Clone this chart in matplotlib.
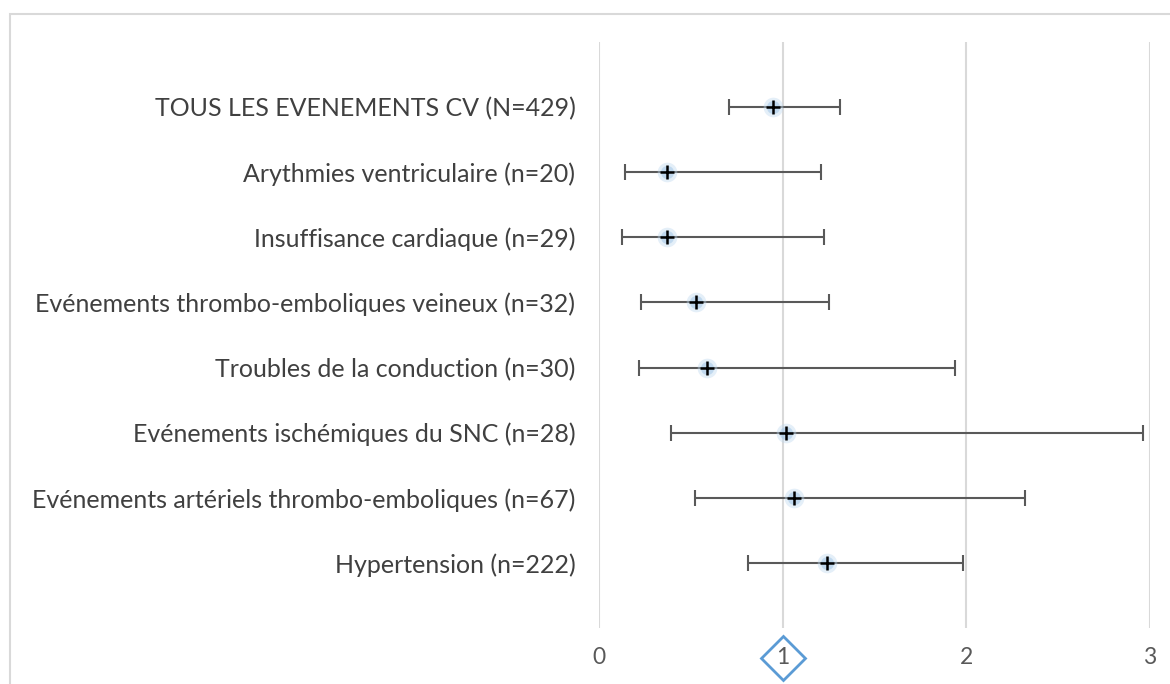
import matplotlib.pyplot as plt
from matplotlib.patches import Rectangle

# categories, bottom to top
labels = [
    "Hypertension (n=222)",
    "Evénements artériels thrombo-emboliques (n=67)",
    "Evénements ischémiques du SNC (n=28)",
    "Troubles de la conduction (n=30)",
    "Evénements thrombo-emboliques veineux (n=32)",
    "Insuffisance cardiaque (n=29)",
    "Arythmies ventriculaire (n=20)",
    "TOUS LES EVENEMENTS CV (N=429)",
]
estimate = [1.24, 1.06, 1.02, 0.59, 0.53, 0.37, 0.37, 0.95]
ci_low = [0.81, 0.52, 0.39, 0.22, 0.23, 0.125, 0.14, 0.71]
ci_high = [1.98, 2.32, 2.96, 1.94, 1.25, 1.225, 1.21, 1.31]
xticks = [0, 1, 2, 3]

plt.rcParams["font.family"] = ["Lato", "DejaVu Sans"]

fig = plt.figure(figsize=(11.7, 6.84), dpi=100)
# outer chart border
fig.patches.append(Rectangle((10 / 1170, -0.05), 1.1, 1 - 14 / 684 + 0.05,
                             transform=fig.transFigure, fill=False,
                             edgecolor="#d9d9d9", linewidth=1.5))

ax = fig.add_axes([599 / 1170, 1 - 628 / 684, (1150 - 599) / 1170, (628 - 42) / 684])

ypos = list(range(1, len(labels) + 1))
xerr = [[e - lo for e, lo in zip(estimate, ci_low)],
        [hi - e for e, hi in zip(estimate, ci_high)]]

ax.errorbar(estimate, ypos, xerr=xerr, fmt="none", ecolor="#595959",
            elinewidth=1.5, capsize=6, capthick=1.5, zorder=3)
# soft glow behind the markers
ax.scatter(estimate, ypos, s=200, color="#bdd7ee", alpha=0.4, linewidths=0, zorder=4)
ax.scatter(estimate, ypos, s=90, color="#9dc3e6", alpha=0.5, linewidths=0, zorder=4)
ax.scatter(estimate, ypos, s=100, marker="+", color="black", linewidths=1.8, zorder=5)

ax.set_xlim(0, 3)
ax.set_ylim(0, len(labels) + 1)
ax.set_xticks(xticks)
ax.set_xticklabels([str(t) for t in xticks])
ax.set_yticks(ypos)
ax.set_yticklabels(labels)
ax.grid(axis="x", color="#d9d9d9", linewidth=1.5)
ax.set_axisbelow(True)
for s in ax.spines.values():
    s.set_visible(False)
ax.tick_params(axis="both", length=0, colors="#595959")
ax.tick_params(axis="y", pad=17, labelsize=18, labelcolor="#404040")
ax.tick_params(axis="x", pad=14, labelsize=16.5)

# diamond marker around the "1" tick
ax.plot([1], [-0.46], marker="D", markersize=22, markerfacecolor="none",
        markeredgecolor="#5b9bd5", markeredgewidth=2, clip_on=False, zorder=1)

fig.savefig("out.png", dpi=100)
